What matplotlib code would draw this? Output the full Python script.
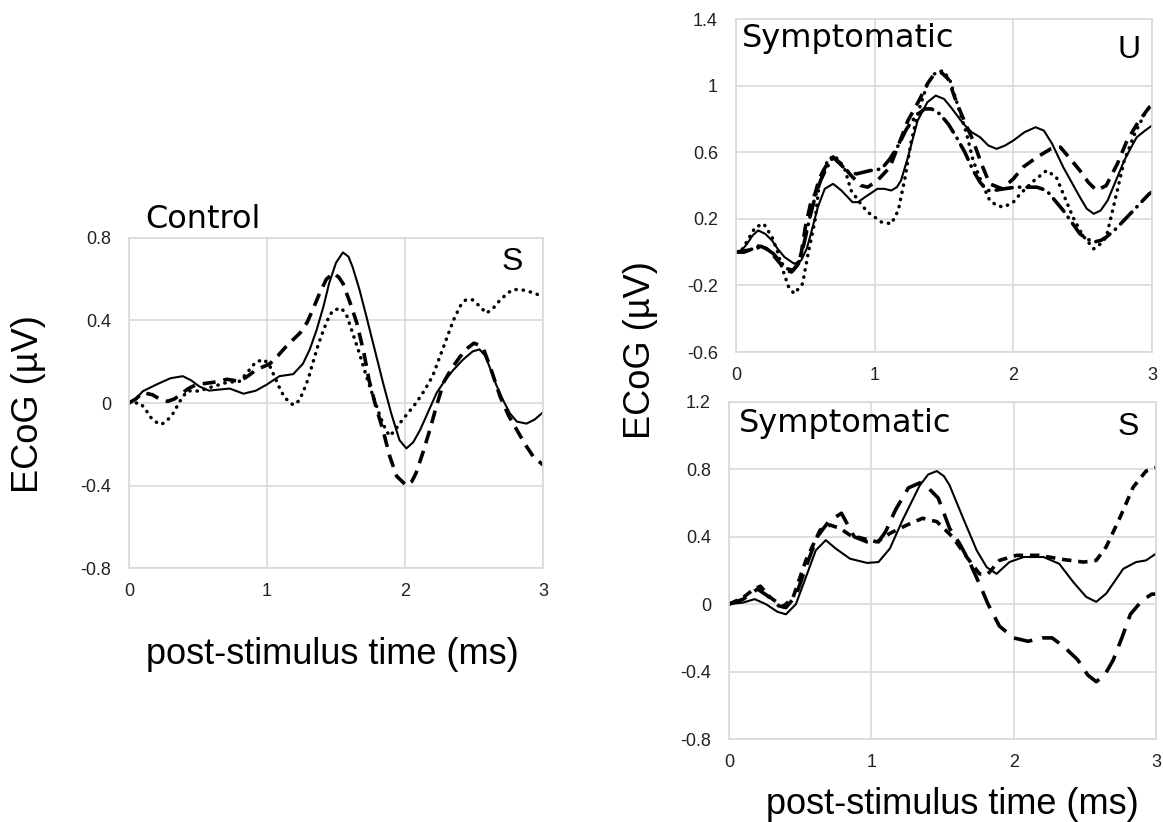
import matplotlib
matplotlib.use("Agg")
import matplotlib.pyplot as plt

# ---- data (time in ms, ECoG in uV) ----
# Control, S
ctrl_solid_t = [0, 0.05, 0.1, 0.2, 0.3, 0.39, 0.45, 0.51, 0.58, 0.65, 0.73, 0.83, 0.92, 1.0, 1.09, 1.19,
                1.26, 1.31, 1.36, 1.41, 1.45, 1.5, 1.55, 1.59, 1.62, 1.67, 1.72, 1.78, 1.84, 1.9, 1.96, 2.01,
                2.06, 2.11, 2.17, 2.23, 2.29, 2.35, 2.42, 2.49, 2.54, 2.58, 2.61, 2.66, 2.71, 2.76, 2.81,
                2.88, 2.94, 3.0]
ctrl_solid_v = [0, 0.02, 0.057, 0.09, 0.12, 0.13, 0.11, 0.08, 0.06, 0.065, 0.07, 0.045, 0.06, 0.09, 0.13, 0.14,
                0.19, 0.26, 0.355, 0.47, 0.58, 0.68, 0.73, 0.71, 0.66, 0.55, 0.42, 0.26, 0.1, -0.05, -0.18, -0.22,
                -0.19, -0.13, -0.04, 0.05, 0.11, 0.16, 0.21, 0.25, 0.26, 0.23, 0.18, 0.09, 0.015, -0.05, -0.09,
                -0.10, -0.08, -0.045]
ctrl_dash_t = [0, 0.05, 0.1, 0.17, 0.22, 0.28, 0.33, 0.37, 0.43, 0.49, 0.55, 0.61, 0.71, 0.8, 0.86, 0.92, 1.02,
               1.08, 1.14, 1.24, 1.29, 1.33, 1.38, 1.43, 1.48, 1.52, 1.55, 1.6, 1.65, 1.7, 1.74, 1.79, 1.84,
               1.89, 1.94, 2.01, 2.05, 2.08, 2.13, 2.18, 2.23, 2.28, 2.34, 2.4, 2.46, 2.5, 2.54, 2.57, 2.62,
               2.69, 2.75, 2.81, 2.87, 2.93, 3.0]
ctrl_dash_v = [0, 0.02, 0.05, 0.04, 0.02, 0.008, 0.02, 0.04, 0.07, 0.09, 0.095, 0.1, 0.115, 0.105, 0.13, 0.16, 0.19,
               0.23, 0.275, 0.34, 0.39, 0.45, 0.53, 0.6, 0.63, 0.61, 0.58, 0.49, 0.39, 0.25, 0.11, -0.02, -0.13,
               -0.26, -0.355, -0.4, -0.38, -0.34, -0.24, -0.13, -0.01, 0.1, 0.17, 0.225, 0.27, 0.29, 0.28, 0.26,
               0.17, 0.03, -0.06, -0.13, -0.2, -0.26, -0.3]
ctrl_dot_t = [0, 0.08, 0.12, 0.15, 0.19, 0.23, 0.27, 0.32, 0.37, 0.42, 0.46, 0.51, 0.56, 0.61, 0.71, 0.8, 0.86,
              0.92, 0.98, 1.02, 1.06, 1.1, 1.13, 1.19, 1.23, 1.26, 1.3, 1.33, 1.37, 1.41, 1.45, 1.48, 1.54, 1.58,
              1.62, 1.67, 1.72, 1.77, 1.82, 1.86, 1.89, 1.93, 1.96, 2.02, 2.08, 2.14, 2.2, 2.25, 2.3, 2.35, 2.4,
              2.44, 2.49, 2.54, 2.59, 2.64, 2.69, 2.74, 2.78, 2.84, 2.9, 2.95, 3.0]
ctrl_dot_v = [0, 0.0, -0.03, -0.065, -0.09, -0.105, -0.09, -0.05, 0.01, 0.057, 0.06, 0.057, 0.07, 0.08, 0.1, 0.105,
              0.15, 0.2, 0.21, 0.18, 0.12, 0.06, 0.025, -0.01, 0.01, 0.05, 0.12, 0.19, 0.28, 0.355, 0.42, 0.45, 0.46,
              0.42, 0.34, 0.24, 0.13, 0.03, -0.065, -0.13, -0.16, -0.13, -0.1, -0.05, 0.0, 0.06, 0.13, 0.22, 0.31,
              0.4, 0.47, 0.5, 0.5, 0.47, 0.435, 0.46, 0.5, 0.53, 0.55, 0.55, 0.54, 0.53, 0.51]

# Symptomatic, U
u_solid_t = [0, 0.04, 0.08, 0.12, 0.16, 0.21, 0.26, 0.3, 0.35, 0.42, 0.47, 0.51, 0.54, 0.59, 0.64, 0.7, 0.76,
             0.84, 0.88, 0.93, 1.02, 1.07, 1.12, 1.16, 1.19, 1.24, 1.31, 1.38, 1.44, 1.5, 1.55, 1.64, 1.7, 1.76,
             1.82, 1.88, 1.94, 2.0, 2.08, 2.16, 2.22, 2.28, 2.36, 2.42, 2.48, 2.53, 2.58, 2.63, 2.68, 2.74,
             2.8, 2.85, 2.89, 2.95, 3.0]
u_solid_v = [0, 0.01, 0.05, 0.1, 0.13, 0.11, 0.07, 0.02, -0.03, -0.07, -0.05, 0.02, 0.11, 0.27, 0.38, 0.41, 0.37,
             0.3, 0.3, 0.33, 0.38, 0.38, 0.37, 0.39, 0.43, 0.57, 0.79, 0.9, 0.94, 0.92, 0.87, 0.77, 0.72, 0.69,
             0.64, 0.62, 0.64, 0.67, 0.72, 0.75, 0.73, 0.65, 0.51, 0.42, 0.33, 0.26, 0.23, 0.25, 0.31, 0.43,
             0.55, 0.63, 0.69, 0.73, 0.76]
u_dot_t = [0, 0.04, 0.09, 0.14, 0.2, 0.26, 0.3, 0.33, 0.38, 0.42, 0.48, 0.52, 0.57, 0.6, 0.66, 0.71, 0.78, 0.83,
           0.9, 0.95, 1.05, 1.12, 1.17, 1.22, 1.26, 1.31, 1.38, 1.43, 1.49, 1.54, 1.6, 1.66, 1.71, 1.77, 1.83,
           1.88, 1.93, 2.0, 2.05, 2.15, 2.24, 2.31, 2.37, 2.43, 2.5, 2.58, 2.63, 2.67, 2.73, 2.8, 2.88, 2.96, 3.0]
u_dot_v = [0, 0.01, 0.08, 0.15, 0.17, 0.09, 0.0, -0.09, -0.21, -0.25, -0.19, -0.01, 0.19, 0.41, 0.55, 0.58, 0.51,
           0.37, 0.29, 0.24, 0.18, 0.17, 0.25, 0.45, 0.65, 0.83, 1.01, 1.07, 1.09, 1.04, 0.88, 0.72, 0.55, 0.42,
           0.31, 0.28, 0.27, 0.3, 0.35, 0.43, 0.49, 0.45, 0.33, 0.21, 0.1, 0.02, 0.05, 0.09, 0.3, 0.55, 0.72,
           0.85, 0.88]
u_dash_t = [0, 0.08, 0.14, 0.18, 0.22, 0.26, 0.32, 0.37, 0.4, 0.44, 0.47, 0.5, 0.54, 0.57, 0.6, 0.63, 0.68, 0.7,
            0.76, 0.83, 0.9, 0.95, 1.02, 1.11, 1.17, 1.24, 1.32, 1.38, 1.43, 1.48, 1.53, 1.59, 1.65, 1.71, 1.77,
            1.83, 1.92, 2.0, 2.07, 2.17, 2.27, 2.34, 2.41, 2.48, 2.54, 2.6, 2.67, 2.75, 2.82, 2.9, 2.98, 3.0]
u_dash_v = [0, 0.01, 0.02, 0.035, 0.02, -0.01, -0.07, -0.11, -0.12, -0.08, -0.01, 0.15, 0.3, 0.35, 0.44, 0.49,
            0.56, 0.57, 0.53, 0.46, 0.4, 0.39, 0.43, 0.51, 0.64, 0.79, 0.91, 1.01, 1.07, 1.08, 1.04, 0.9, 0.78,
            0.67, 0.53, 0.41, 0.38, 0.44, 0.51, 0.57, 0.62, 0.63, 0.56, 0.49, 0.42, 0.37, 0.4, 0.53, 0.67, 0.78,
            0.87, 0.88]
u_dashdot_t = [0, 0.06, 0.12, 0.17, 0.22, 0.27, 0.32, 0.37, 0.41, 0.45, 0.49, 0.53, 0.57, 0.61, 0.65, 0.7, 0.75,
               0.81, 0.87, 0.97, 1.05, 1.11, 1.17, 1.23, 1.3, 1.36, 1.41, 1.47, 1.53, 1.59, 1.65, 1.71, 1.76,
               1.81, 1.86, 1.93, 2.02, 2.1, 2.17, 2.24, 2.3, 2.36, 2.42, 2.48, 2.53, 2.58, 2.63, 2.67, 2.74,
               2.82, 2.9, 2.98, 3.0]
u_dashdot_v = [0, 0.0, 0.02, 0.04, 0.02, -0.01, -0.06, -0.1, -0.11, -0.07, 0.05, 0.2, 0.33, 0.43, 0.5, 0.57, 0.53,
               0.48, 0.47, 0.49, 0.5, 0.56, 0.64, 0.74, 0.82, 0.86, 0.86, 0.83, 0.77, 0.69, 0.6, 0.49, 0.42,
               0.37, 0.37, 0.38, 0.39, 0.39, 0.39, 0.37, 0.31, 0.25, 0.18, 0.11, 0.08, 0.06, 0.07, 0.09, 0.14,
               0.21, 0.28, 0.35, 0.36]

# Symptomatic, S
s_solid_t = [0, 0.1, 0.18, 0.26, 0.34, 0.4, 0.47, 0.54, 0.61, 0.68, 0.75, 0.85, 0.97, 1.05, 1.13, 1.22, 1.34,
             1.4, 1.46, 1.51, 1.55, 1.65, 1.74, 1.81, 1.88, 1.97, 2.07, 2.21, 2.32, 2.42, 2.51, 2.58, 2.65,
             2.77, 2.86, 2.93, 3.0]
s_solid_v = [0, 0.01, 0.03, 0.0, -0.045, -0.06, 0.0, 0.16, 0.32, 0.38, 0.33, 0.27, 0.245, 0.25, 0.33, 0.5, 0.705,
             0.77, 0.79, 0.76, 0.705, 0.5, 0.32, 0.22, 0.18, 0.25, 0.28, 0.28, 0.24, 0.13, 0.043, 0.014, 0.063,
             0.21, 0.25, 0.26, 0.3]
s_short_t = [0, 0.1, 0.16, 0.22, 0.29, 0.38, 0.45, 0.54, 0.64, 0.71, 0.78, 0.85, 0.94, 1.04, 1.13, 1.25, 1.36,
             1.46, 1.57, 1.67, 1.76, 1.82, 1.9, 2.02, 2.18, 2.35, 2.49, 2.58, 2.65, 2.75, 2.84, 2.93, 3.0]
s_short_v = [0, 0.04, 0.08, 0.107, 0.04, -0.015, 0.04, 0.26, 0.44, 0.47, 0.45, 0.41, 0.39, 0.37, 0.42, 0.47, 0.51,
             0.49, 0.4, 0.28, 0.18, 0.18, 0.26, 0.29, 0.29, 0.265, 0.25, 0.26, 0.34, 0.52, 0.695, 0.79, 0.81]
s_long_t = [0, 0.1, 0.2, 0.27, 0.35, 0.4, 0.47, 0.54, 0.62, 0.7, 0.79, 0.88, 0.97, 1.05, 1.1, 1.17, 1.26, 1.34,
            1.4, 1.47, 1.55, 1.62, 1.69, 1.76, 1.82, 1.9, 2.0, 2.1, 2.2, 2.27, 2.35, 2.45, 2.52, 2.58, 2.64,
            2.7, 2.76, 2.82, 2.9, 2.97, 3.0]
s_long_v = [0, 0.03, 0.09, 0.05, -0.01, -0.02, 0.05, 0.22, 0.4, 0.49, 0.54, 0.4, 0.37, 0.37, 0.43, 0.56, 0.69, 0.72,
            0.69, 0.63, 0.45, 0.36, 0.25, 0.12, 0.0, -0.13, -0.2, -0.22, -0.2, -0.2, -0.25, -0.33, -0.42, -0.46,
            -0.42, -0.33, -0.2, -0.06, 0.02, 0.06, 0.06]

x_ticks = [0, 1, 2, 3]
ctrl_yticks = [-0.8, -0.4, 0, 0.4, 0.8]
ctrl_ylabels = ["-0.8", "-0.4", "0", "0.4", "0.8"]
u_yticks = [-0.6, -0.2, 0.2, 0.6, 1.0, 1.4]
u_ylabels = ["-0.6", "-0.2", "0.2", "0.6", "1", "1.4"]
s_yticks = [-0.8, -0.4, 0, 0.4, 0.8, 1.2]
s_ylabels = ["-0.8", "-0.4", "0", "0.4", "0.8", "1.2"]

W, H = 1163, 822
SANS = "Liberation Sans"
TITLE = "DejaVu Sans"
GRID = "#d9d9d9"

fig = plt.figure(figsize=(W / 100, H / 100), dpi=100)


def box(x0, y0, x1, y1):
    # pixel box -> figure fraction
    return [x0 / W, 1 - y1 / H, (x1 - x0) / W, (y1 - y0) / H]


def setup(ax, yticks, ylabels):
    ax.set_xlim(0, 3)
    ax.set_ylim(yticks[0], yticks[-1])
    ax.set_xticks(x_ticks)
    ax.set_xticklabels([str(v) for v in x_ticks], fontfamily=SANS, fontsize=13)
    ax.set_yticks(yticks)
    ax.set_yticklabels(ylabels, fontfamily=SANS, fontsize=13)
    ax.tick_params(axis="both", length=0, colors="#222222")
    ax.tick_params(axis="x", pad=11)
    ax.tick_params(axis="y", pad=13)
    ax.grid(True, color=GRID, lw=1.2)
    ax.set_axisbelow(True)
    for s in ax.spines.values():
        s.set_color(GRID)
        s.set_linewidth(1.2)


solid = dict(color="black", lw=1.5, ls="-", solid_joinstyle="round")
dashed = dict(color="black", lw=2.6, ls=(0, (3.6, 2.2)), dash_joinstyle="round")
dotted = dict(color="black", lw=2.5, ls=(0, (0.1, 2.0)), dash_capstyle="round")
dashdot = dict(color="black", lw=2.6, ls=(0, (4.5, 2.0, 0.1, 2.0)), dash_capstyle="round",
               dash_joinstyle="round")
shortdash = dict(color="black", lw=2.6, ls=(0, (2.6, 1.9)), dash_joinstyle="round")
longdash = dict(color="black", lw=2.6, ls=(0, (5.2, 2.8)), dash_joinstyle="round")

# Control
ax1 = fig.add_axes(box(129, 238, 543, 568))
setup(ax1, ctrl_yticks, ctrl_ylabels)
ax1.plot(ctrl_dot_t, ctrl_dot_v, **dotted)
ax1.plot(ctrl_dash_t, ctrl_dash_v, **dashed)
ax1.plot(ctrl_solid_t, ctrl_solid_v, **solid)

# Symptomatic U
ax2 = fig.add_axes(box(736, 19, 1152, 352))
setup(ax2, u_yticks, u_ylabels)
ax2.plot(u_dot_t, u_dot_v, **dotted)
ax2.plot(u_dashdot_t, u_dashdot_v, **dashdot)
ax2.plot(u_dash_t, u_dash_v, **dashed)
ax2.plot(u_solid_t, u_solid_v, **solid)

# Symptomatic S
ax3 = fig.add_axes(box(729, 402, 1156, 739))
setup(ax3, s_yticks, s_ylabels)
ax3.plot(s_long_t, s_long_v, **longdash)
ax3.plot(s_short_t, s_short_v, **shortdash)
ax3.plot(s_solid_t, s_solid_v, **solid)


def ftext(x, y, s, **kw):
    fig.text(x / W, 1 - y / H, s, **kw)


ftext(145, 228, "Control", fontfamily=TITLE, fontsize=23, va="baseline")
ftext(512, 262, "S", fontfamily=SANS, fontsize=23, ha="center", va="center")
ftext(742, 47, "Symptomatic", fontfamily=TITLE, fontsize=23, va="baseline")
ftext(1129, 50, "U", fontfamily=SANS, fontsize=23, ha="center", va="center")
ftext(739, 432, "Symptomatic", fontfamily=TITLE, fontsize=23, va="baseline")
ftext(1128, 427, "S", fontfamily=SANS, fontsize=23, ha="center", va="center")

ftext(29, 404, "ECoG (\u00b5V)", fontfamily=SANS, fontsize=26, rotation=90, ha="center", va="center")
ftext(641, 350, "ECoG (\u00b5V)", fontfamily=SANS, fontsize=26, rotation=90, ha="center", va="center")
ftext(332, 654, "post-stimulus time (ms)", fontfamily=SANS, fontsize=26, ha="center", va="center")
ftext(952, 804, "post-stimulus time (ms)", fontfamily=SANS, fontsize=26, ha="center", va="center")

fig.savefig("out.png", dpi=100)
